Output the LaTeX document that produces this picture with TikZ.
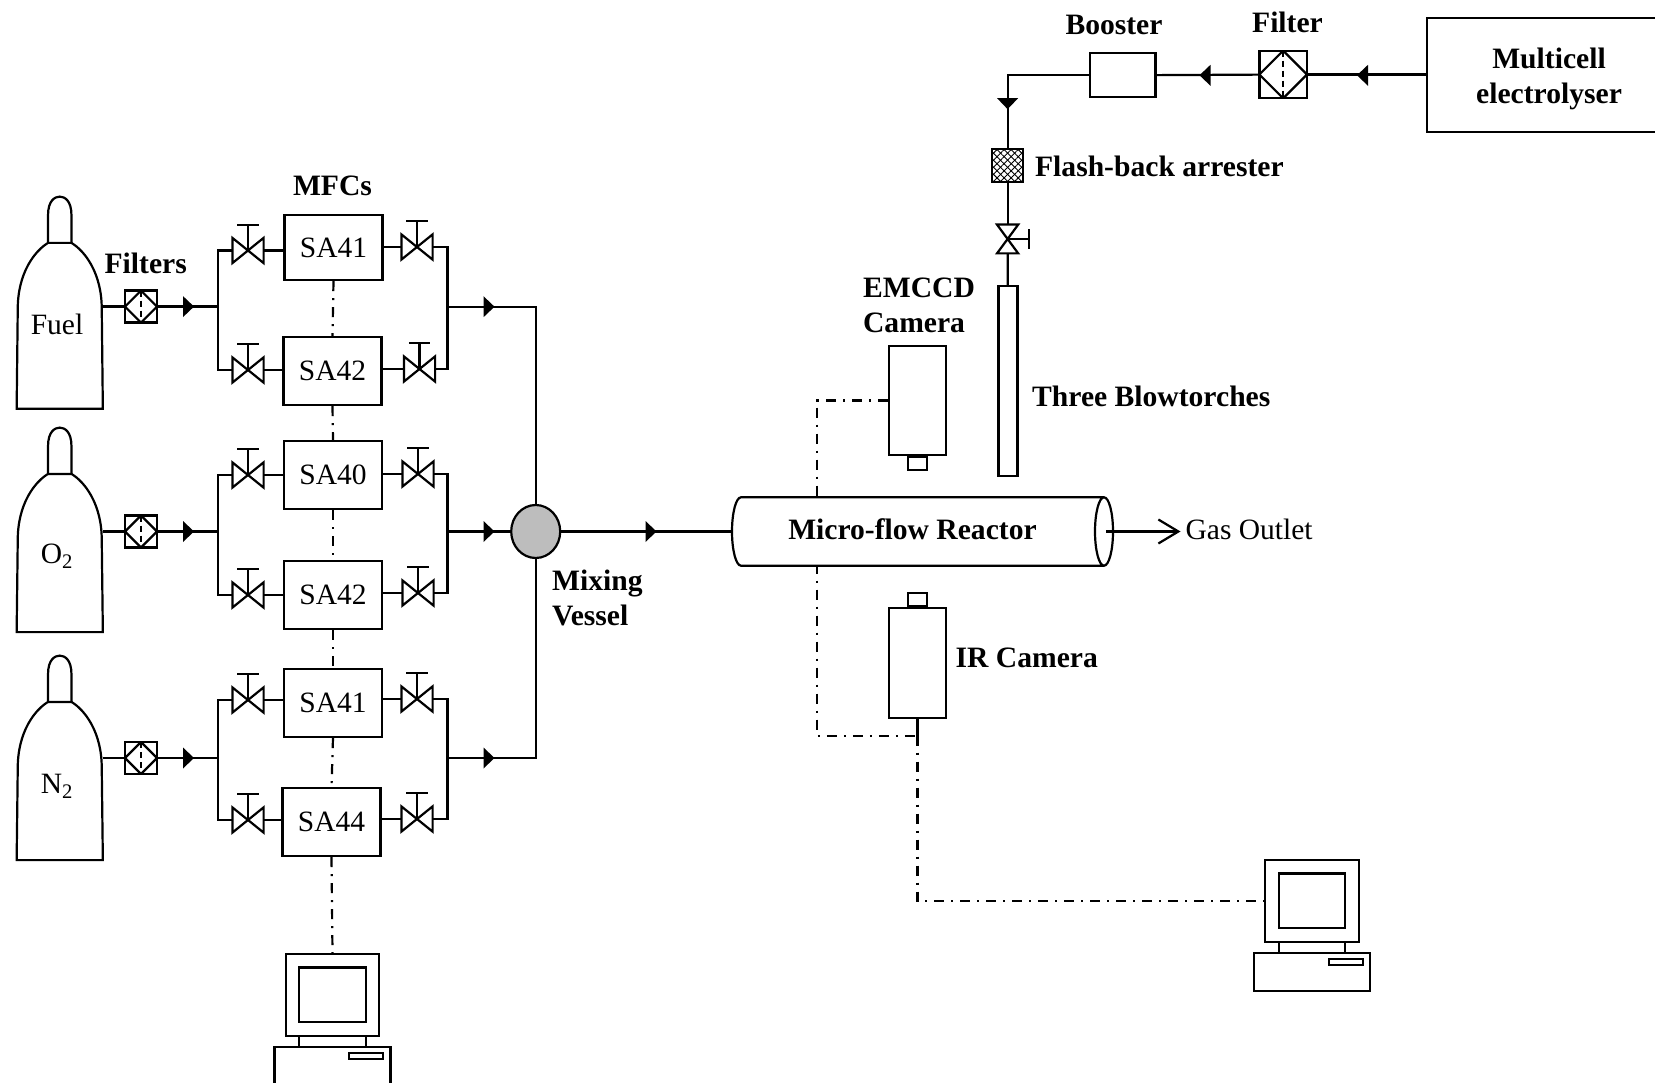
\documentclass[tikz,border=0pt]{standalone}
\usepackage{fontspec}
\setmainfont{Liberation Serif}
\usepackage{tikz}
\usetikzlibrary{arrows.meta, calc, patterns.meta, positioning, shapes.geometric}
\tikzset {
    plaintag/.style = {
        inner sep=0pt,
        font=\fontsize{29.5}{35}\selectfont
    },
    boldtag/.style = {
        inner sep=0pt,
        align=left,
        font=\fontsize{29.6}{35}\selectfont\bfseries
    },
    mfc/.style = {
        draw,
        plaintag,
        minimum width=98pt,
        minimum height=#1
    },
    mfc/.default = 68pt,
    flowtip/.style = {
        fill,
        isosceles triangle,
        isosceles triangle stretches,
        inner sep=0pt,
        minimum width=21pt,
        minimum height=11pt
    },
    filterbox/.style = {
        draw,
        inner sep=0pt,
        minimum size=32pt,
        path picture = {
            \draw (path picture bounding box.north) -- (path picture bounding box.east)
                -- (path picture bounding box.south) -- (path picture bounding box.west) -- cycle;
            \draw [dash pattern=on 6pt off 4pt] (path picture bounding box.north) -- (path picture bounding box.south);
        }
    },
    valve/.style = {
        inner sep=0pt,
        minimum width=29pt,
        minimum height=23pt,
        append after command = {
            \pgfextra{
                \draw (\tikzlastnode.south west) -- (\tikzlastnode.north east)
                    -- (\tikzlastnode.south east) -- (\tikzlastnode.north west) -- cycle;
                \draw (\tikzlastnode.center) -- ($2.05*(\tikzlastnode.north)-1.05*(\tikzlastnode.center)$);
                \draw ($2.05*(\tikzlastnode.north)-1.05*(\tikzlastnode.center)+0.68*(\tikzlastnode.west)-0.68*(\tikzlastnode.center)$)
                    -- ($2.05*(\tikzlastnode.north)-1.05*(\tikzlastnode.center)+0.68*(\tikzlastnode.east)-0.68*(\tikzlastnode.center)$);
            }
        }
    },
    tank/.style = {
        minimum width=84pt,
        minimum height=#1,
        append after command = {
            \pgfextra{
                \draw [shift={(\tikzlastnode.north)}] (-42,66)
                    .. controls (-42,30) and (-25,8) .. (-11.7,0) -- (11.7,0)
                    .. controls (25,8) and (42,30) .. (42,66)
                    -- (\tikzlastnode.south east) -- (\tikzlastnode.south west) -- cycle;
                \draw [shift={(\tikzlastnode.north)}] (-11.7,0) -- (-11.7,-28)
                    .. controls (-11.7,-42) and (-5,-46.3) .. (0,-46.3)
                    .. controls (5,-46.3) and (11.7,-42) .. (11.7,-28) -- (11.7,0);
            }
        }
    },
    tube/.style = {
        inner sep=0pt,
        minimum width=381pt,
        minimum height=68.4pt,
        append after command = {
            \pgfextra{
                \draw [fill=white, shift={(\tikzlastnode.center)}] (181.5,-34.2) -- (-181.5,-34.2)
                    .. controls (-186.5,-34.2) and (-190.5,-18.8) .. (-190.5,0)
                    .. controls (-190.5,18.8) and (-186.5,34.2) .. (-181.5,34.2)
                    -- (181.5,34.2) (181.5,0) ellipse [x radius=9, y radius=34.2];
            }
        }
    },
    computer/.style = {
        draw,
        inner sep=0pt,
        minimum width=93.6pt,
        minimum height=81.7pt,
        append after command = {
            \pgfextra{
                \begin{scope}[shift={(\tikzlastnode.center)}]
                    \draw (-33.3,-27.3) rectangle (33.3,27.3);
                    \draw (-33.3,40.85) -- (-33.3,51.8);
                    \draw (33.3,40.85) -- (33.3,51.8);
                    \draw (-58,51.8) rectangle (58,89.8);
                    \draw (16.8,57.8) rectangle (50.8,63.8);
                \end{scope}
            }
        }
    },
    camera/.style = {
        draw,
        inner sep=0pt,
        minimum width=57pt,
        minimum height=#1
    },
    lens/.style = {
        draw,
        inner sep=0pt,
        minimum width=19.5pt,
        minimum height=12.5pt
    },
    signal/.style = {
        dash pattern=on 10pt off 7pt on 2pt off 7pt
    }
}

\begin{document}
\begin{tikzpicture}[x=1pt, y=-1pt, line width=2.2pt]
        \useasboundingbox (0, 0) rectangle (1655, 1083);

        % Gas supply : tank, filter
        \node [tank=163.7pt] at (59.75, 325.85)                 (fuel)      {};
        \node [plaintag] at (57, 324.8)                         (fueltag)   {Fuel};
        \node [filterbox] at (141, 306.6)                       (filter1)   {};
        \node [boldtag] at (145.7, 263)                         (filters)   {Filters};
        \node [tank=156pt] at (59.75, 553)                      (oxygen)    {};
        \node [plaintag] at (57, 556)                           (oxygentag) {O\textsubscript{2}};
        \node [filterbox] at (141, 531.5)                       (filter2)   {};
        \node [tank=156pt] at (59.75, 781)                      (nitrogen)  {};
        \node [plaintag] at (57, 786)                           (nitrogentag) {N\textsubscript{2}};
        \node [filterbox] at (141, 758)                         (filter3)   {};

        % Controllers : valve, box, valve
        \node [boldtag] at (332.5, 186)                         (mfcs)      {MFCs};
        \node [mfc=65pt] at (333.5, 247.5)                      (mfc11)     {SA41};
        \node [valve] at (248, 250.5)                           (valve11)   {};
        \node [valve] at (417, 247)                             (valve12)   {};
        \node [mfc] at (332.5, 371)                             (mfc12)     {SA42};
        \node [valve] at (248, 370)                             (valve13)   {};
        \node [valve] at (419.5, 369)                           (valve14)   {};

        \node [mfc] at (333, 475)                               (mfc21)     {SA40};
        \node [valve] at (248, 475)                             (valve21)   {};
        \node [valve] at (418, 474)                             (valve22)   {};
        \node [mfc] at (333, 595)                               (mfc22)     {SA42};
        \node [valve] at (248, 595)                             (valve23)   {};
        \node [valve] at (418, 593)                             (valve24)   {};

        \node [mfc] at (333, 703)                               (mfc31)     {SA41};
        \node [valve] at (248, 700)                             (valve31)   {};
        \node [valve] at (417, 699)                             (valve32)   {};
        \node [mfc] at (331.5, 822)                             (mfc32)     {SA44};
        \node [valve] at (248, 820)                             (valve33)   {};
        \node [valve] at (417, 819)                             (valve34)   {};

        \node [computer] at (332.5, 994.85)                     (pc1)       {};

        % Branch points
        \coordinate (split1)    at (218, 306.6);
        \coordinate (split2)    at (218, 531.5);
        \coordinate (split3)    at (218, 758);
        \coordinate (merge1)    at (447.5, 306.7);
        \coordinate (merge2)    at (447.5, 531.5);
        \coordinate (merge3)    at (447.5, 758);
        \coordinate (main1)     at (535.7, 306.7);
        \coordinate (main3)     at (535.7, 758);

        % Vessel
        \node [draw, ellipse, fill=black!26, inner sep=0pt,
               minimum width=49pt, minimum height=53pt] at (535.7, 531.5) (vessel) {};
        \node [boldtag, anchor=north west] at (551, 569)        (mixing)    {Mixing\\Vessel};

        % Hydrogen line : electrolyser, filter, booster, arrester, valve, torch
        \node [draw, minimum width=240pt, minimum height=114pt] at (1546.6, 75.3) (multicell) {};
        \node [boldtag, align=center] at (1549, 79)             (celltag)   {Multicell\\electrolyser};
        \node [filterbox, minimum size=47.6pt] at (1283.2, 74.5) (filter4)  {};
        \node [boldtag] at (1287.5, 22.7)                       (filtertag) {Filter};
        \node [draw, minimum width=65.7pt, minimum height=44pt] at (1122.6, 75.3) (booster) {};
        \node [boldtag] at (1114, 25)                           (boostertag) {Booster};
        \node [draw, preaction={pattern={Lines[angle=45, distance=5pt, line width=0.9pt]}},
               pattern={Lines[angle=-45, distance=5pt, line width=0.9pt]}, minimum width=31pt,
               minimum height=33.3pt, inner sep=0pt] at (1007.6, 165.7) (arrester) {};
        \node [boldtag, right=10.5pt of arrester, yshift=-0.5pt] (arrestertag) {Flash-back arrester};
        \node [valve, rotate=-90, minimum width=26.6pt, minimum height=19pt] at (1007.6, 239) (valve4) {};
        \node [draw, inner sep=0pt, minimum width=19pt, minimum height=190pt] at (1008, 381) (torch) {};
        \node [boldtag, right=12.5pt of torch, yshift=-15.5pt]  (torchtag)  {Three Blowtorches};

        % Cameras
        \node [camera=109pt] at (917.5, 400.5)                  (emccd)     {};
        \node [lens, below=0pt of emccd]                        (emccdlens) {};
        \node [boldtag] at (919, 305.5)                         (emccdtag)  {EMCCD\\Camera};
        \node [camera=110pt] at (917.5, 663)                    (ircam)     {};
        \node [lens, above=0pt of ircam]                        (irlens)    {};
        \node [boldtag, right=7.5pt of ircam, yshift=5.3pt]     (irtag)     {IR Camera};
        \node [computer] at (1311.9, 900.85)                    (pc2)       {};
        \coordinate (corner)    at (817, 735.7);
        \coordinate (irjoin)    at (917.5, 735.7);

        % Signal lines first, the reactor covers them
        \draw [signal]  (mfc11.south)   --  (mfc12.north);
        \draw [signal]  (mfc12.south)   --  (mfc21.north);
        \draw [signal]  (mfc21.south)   --  (mfc22.north);
        \draw [signal]  (mfc22.south)   --  (mfc31.north);
        \draw [signal]  (mfc31.south)   --  (mfc32.north);
        \draw [signal]  (mfc32.south)   --  (pc1.north);
        \draw [signal]  (emccd.west)    -|  (corner) -- (irjoin);
        \draw           (ircam.south)   --  (irjoin);
        \draw [signal]  (irjoin)        |-  (pc2.west);

        \node [tube] at (922.5, 531.5)                          (reactor)   {};
        \node [boldtag] at (912.5, 529)                         (reactortag) {Micro-flow Reactor};
        \node [plaintag, anchor=west] at (1184.5, 529)          (outlet)    {Gas Outlet};
        \coordinate [left=8pt of reactor.east]                  (exit);
        \coordinate (outletend) at ([xshift=-4pt]outlet.west |- exit);

        % Supply connectors
        \draw           (fuel.east |- filter1)      --  (filter1);
        \draw           (filter1)   --  (split1);
        \draw           (oxygen.east |- filter2)    --  (filter2);
        \draw           (filter2)   --  (split2);
        \draw           (nitrogen.east |- filter3)  --  (filter3);
        \draw           (filter3)   --  (split3);

        \draw           (valve11.west)  -|  (split1) |- (valve13.west);
        \draw           (valve21.west)  -|  (split2) |- (valve23.west);
        \draw           (valve31.west)  -|  (split3) |- (valve33.west);
        \draw           (valve12.east)  -|  (merge1) |- (valve14.east);
        \draw           (valve22.east)  -|  (merge2) |- (valve24.east);
        \draw           (valve32.east)  -|  (merge3) |- (valve34.east);

        \draw           (valve11.east)  --  (valve11.east -| mfc11.west);
        \draw           (mfc11.east |- valve12.west)    --  (valve12.west);
        \draw           (valve13.east)  --  (valve13.east -| mfc12.west);
        \draw           (mfc12.east |- valve14.west)    --  (valve14.west);
        \draw           (valve21.east)  --  (valve21.east -| mfc21.west);
        \draw           (mfc21.east |- valve22.west)    --  (valve22.west);
        \draw           (valve23.east)  --  (valve23.east -| mfc22.west);
        \draw           (mfc22.east |- valve24.west)    --  (valve24.west);
        \draw           (valve31.east)  --  (valve31.east -| mfc31.west);
        \draw           (mfc31.east |- valve32.west)    --  (valve32.west);
        \draw           (valve33.east)  --  (valve33.east -| mfc32.west);
        \draw           (mfc32.east |- valve34.west)    --  (valve34.west);

        \draw           (merge1)    --  (main1) -- (vessel);
        \draw           (merge2)    --  (vessel);
        \draw           (merge3)    --  (main3) -- (vessel);
        \draw           (vessel)    --  (reactor.west);
        \draw [-{Straight Barb[length=20pt, width=24pt]}] (exit) -- (outletend);

        % Hydrogen connectors
        \draw           (multicell.west |- filter4) --  (filter4);
        \draw           (filter4)   --  (booster);
        \draw           (booster.west)  -|  (arrester.north);
        \draw           (arrester)  --  (valve4);
        \draw           (valve4)    --  (torch);

        % Flow marks
        \node [flowtip] at (187.5, 306.6)                       (tip1)      {};
        \node [flowtip] at (187.5, 531.5)                       (tip2)      {};
        \node [flowtip] at (187.5, 758)                         (tip3)      {};
        \node [flowtip] at (488, 306.7)                         (tip4)      {};
        \node [flowtip] at (488, 531.5)                         (tip5)      {};
        \node [flowtip] at (488, 758)                           (tip6)      {};
        \node [flowtip] at (650, 531.5)                         (tip7)      {};
        \node [flowtip, rotate=180] at (1363.5, 75.3)           (tip8)      {};
        \node [flowtip, rotate=180] at (1206, 75.3)             (tip9)      {};
        \node [flowtip, rotate=-90] at (1007.6, 102.7)          (tip10)     {};
    \end{tikzpicture}
\end{document}
